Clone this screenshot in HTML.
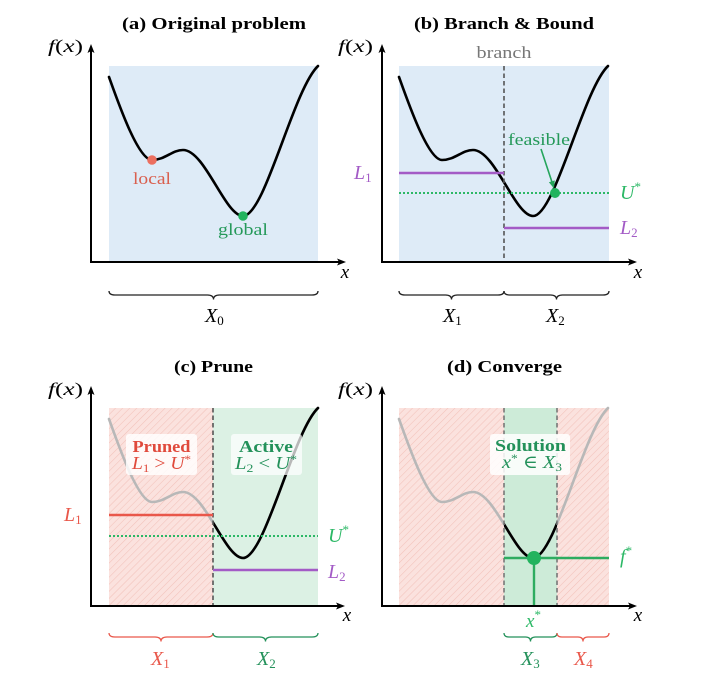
<!DOCTYPE html>
<html>
<head>
<meta charset="utf-8">
<style>
html,body{margin:0;padding:0;background:#fff;}
svg{display:block;}
text{font-family:"Liberation Serif","DejaVu Serif",serif;}
</style>
</head>
<body>
<svg width="704" height="682" viewBox="0 0 704 682" xmlns="http://www.w3.org/2000/svg">
<defs>
  <pattern id="hatch" width="5" height="5" patternUnits="userSpaceOnUse" patternTransform="rotate(45)">
    <rect width="5" height="5" fill="#fbe2de"/>
    <line x1="0" y1="0" x2="0" y2="5" stroke="#f2c2ba" stroke-width="1.1"/>
  </pattern>
  <path id="curve" d="M109,77 C118,102 138,160 152,160 C165,160 172,150 183,150 C205,150 225,216 243,216 C265,216 293,90 318,66" fill="none" stroke-linecap="round"/>
  <clipPath id="clipC"><rect x="213" y="395" width="110" height="220"/></clipPath>
  <clipPath id="clipD"><rect x="504" y="395" width="53" height="220"/></clipPath>
</defs>
<rect width="704" height="682" fill="#fff"/>

<!-- ================= Panel (a) ================= -->
<text x="214" y="29" font-size="17" font-weight="bold" text-anchor="middle" textLength="184" lengthAdjust="spacingAndGlyphs">(a) Original problem</text>
<rect x="109" y="66" width="209" height="196" fill="#deebf7"/>
<use href="#curve" stroke="#000" stroke-width="2.6"/>
<circle cx="152" cy="160" r="4.8" fill="#ec6f5f"/>
<text x="152" y="184" font-size="17" fill="#d9604f" text-anchor="middle" textLength="38" lengthAdjust="spacingAndGlyphs">local</text>
<circle cx="243" cy="216" r="4.8" fill="#22b35e"/>
<text x="243" y="235" font-size="17" fill="#25995a" text-anchor="middle" textLength="50" lengthAdjust="spacingAndGlyphs">global</text>
<!-- axes -->
<line x1="91" y1="262" x2="340" y2="262" stroke="#000" stroke-width="2"/>
<polygon points="346,262 337,258.5 339,262 337,265.5" fill="#000"/>
<line x1="91" y1="263" x2="91" y2="50" stroke="#000" stroke-width="2"/>
<polygon points="91,44 87.5,53 91,51 94.5,53" fill="#000"/>
<text x="48" y="52" font-size="18" textLength="35" lengthAdjust="spacingAndGlyphs"><tspan font-style="italic">f</tspan>(<tspan font-style="italic">x</tspan>)</text>
<text x="345" y="278" font-size="19" font-style="italic" text-anchor="middle">x</text>
<path d="M109,291 Q109,295 115,295 L207.5,295 Q213.5,295 213.5,299.5 Q213.5,295 219.5,295 L312,295 Q318,295 318,291" fill="none" stroke="#222" stroke-width="1.3"/>
<text x="205" y="322" font-size="20"><tspan font-style="italic">X</tspan><tspan font-size="13" dy="3">0</tspan></text>

<!-- ================= Panel (b) ================= -->
<text x="504" y="29" font-size="17" font-weight="bold" text-anchor="middle" textLength="180" lengthAdjust="spacingAndGlyphs">(b) Branch &amp; Bound</text>
<rect x="399" y="66" width="210" height="196" fill="#deebf7"/>
<use href="#curve" transform="translate(290,0)" stroke="#000" stroke-width="2.6"/>
<line x1="504" y1="66" x2="504" y2="262" stroke="#555" stroke-width="1.6" stroke-dasharray="4.5 3"/>
<text x="504" y="58" font-size="17" fill="#777" text-anchor="middle" textLength="55" lengthAdjust="spacingAndGlyphs">branch</text>
<line x1="399" y1="173" x2="504" y2="173" stroke="#a35bc6" stroke-width="2.6"/>
<line x1="399" y1="193" x2="609" y2="193" stroke="#2cb866" stroke-width="2" stroke-dasharray="2 2"/>
<line x1="504" y1="228" x2="609" y2="228" stroke="#a35bc6" stroke-width="2.6"/>
<text x="354" y="179" font-size="20" fill="#a35bc6"><tspan font-style="italic">L</tspan><tspan font-size="13" dy="3">1</tspan></text>
<text x="620" y="199" font-size="20" fill="#2cb866"><tspan font-style="italic">U</tspan><tspan font-size="13" dy="-8">*</tspan></text>
<text x="620" y="234" font-size="20" fill="#a35bc6"><tspan font-style="italic">L</tspan><tspan font-size="13" dy="3">2</tspan></text>
<text x="508" y="145" font-size="17" fill="#25995a" textLength="62" lengthAdjust="spacingAndGlyphs">feasible</text>
<line x1="541" y1="149" x2="551.8" y2="181.5" stroke="#25a55c" stroke-width="1.6"/>
<polygon points="554,188.5 554.8,180.4 548.9,182.3" fill="#25a55c"/>
<circle cx="555" cy="193" r="5" fill="#22b35e"/>
<!-- axes -->
<line x1="382" y1="262" x2="631" y2="262" stroke="#000" stroke-width="2"/>
<polygon points="637,262 628,258.5 630,262 628,265.5" fill="#000"/>
<line x1="382" y1="263" x2="382" y2="50" stroke="#000" stroke-width="2"/>
<polygon points="382,44 378.5,53 382,51 385.5,53" fill="#000"/>
<text x="338" y="52" font-size="18" textLength="35" lengthAdjust="spacingAndGlyphs"><tspan font-style="italic">f</tspan>(<tspan font-style="italic">x</tspan>)</text>
<text x="638" y="278" font-size="19" font-style="italic" text-anchor="middle">x</text>
<path d="M399,291 Q399,295 405,295 L445.5,295 Q451.5,295 451.5,299.5 Q451.5,295 457.5,295 L498,295 Q504,295 504,291" fill="none" stroke="#222" stroke-width="1.3"/>
<path d="M504,291 Q504,295 510,295 L550.5,295 Q556.5,295 556.5,299.5 Q556.5,295 562.5,295 L603,295 Q609,295 609,291" fill="none" stroke="#222" stroke-width="1.3"/>
<text x="443" y="322" font-size="20"><tspan font-style="italic">X</tspan><tspan font-size="13" dy="3">1</tspan></text>
<text x="546" y="322" font-size="20"><tspan font-style="italic">X</tspan><tspan font-size="13" dy="3">2</tspan></text>

<!-- ================= Panel (c) ================= -->
<text x="213.5" y="372" font-size="17" font-weight="bold" text-anchor="middle" textLength="79" lengthAdjust="spacingAndGlyphs">(c) Prune</text>
<rect x="109" y="408" width="104" height="198" fill="url(#hatch)"/>
<rect x="213" y="408" width="105" height="198" fill="#dcf1e4"/>
<use href="#curve" transform="translate(0,342)" stroke="#b8b8b8" stroke-width="2.6"/>
<g clip-path="url(#clipC)"><use href="#curve" transform="translate(0,342)" stroke="#000" stroke-width="2.6"/></g>
<line x1="213" y1="408" x2="213" y2="606" stroke="#555" stroke-width="1.6" stroke-dasharray="4.5 3"/>
<line x1="109" y1="515" x2="213" y2="515" stroke="#e9574a" stroke-width="2.6"/>
<line x1="109" y1="536" x2="318" y2="536" stroke="#2cb866" stroke-width="2" stroke-dasharray="2 2"/>
<line x1="213" y1="570" x2="318" y2="570" stroke="#a35bc6" stroke-width="2.6"/>
<text x="64" y="521" font-size="20" fill="#e9574a"><tspan font-style="italic">L</tspan><tspan font-size="13" dy="3">1</tspan></text>
<text x="328" y="542" font-size="20" fill="#2cb866"><tspan font-style="italic">U</tspan><tspan font-size="13" dy="-8">*</tspan></text>
<text x="328" y="578" font-size="20" fill="#a35bc6"><tspan font-style="italic">L</tspan><tspan font-size="13" dy="3">2</tspan></text>
<rect x="126" y="434" width="71" height="41" rx="3" fill="#fff" fill-opacity="0.82"/>
<text x="161.5" y="452" font-size="17" font-weight="bold" fill="#e04a3c" text-anchor="middle" textLength="58" lengthAdjust="spacingAndGlyphs">Pruned</text>
<text x="161.5" y="469" font-size="18" fill="#e04a3c" text-anchor="middle" textLength="59" lengthAdjust="spacingAndGlyphs"><tspan font-style="italic">L</tspan><tspan font-size="12" dy="3">1</tspan><tspan dy="-3"> &gt; </tspan><tspan font-style="italic">U</tspan><tspan font-size="12" dy="-6">*</tspan></text>
<rect x="231" y="434" width="71" height="41" rx="3" fill="#fff" fill-opacity="0.72"/>
<text x="266" y="452" font-size="17" font-weight="bold" fill="#23915a" text-anchor="middle" textLength="54" lengthAdjust="spacingAndGlyphs">Active</text>
<text x="266" y="469" font-size="18" fill="#23915a" text-anchor="middle" textLength="62" lengthAdjust="spacingAndGlyphs"><tspan font-style="italic">L</tspan><tspan font-size="12" dy="3">2</tspan><tspan dy="-3"> &lt; </tspan><tspan font-style="italic">U</tspan><tspan font-size="12" dy="-6">*</tspan></text>
<!-- axes -->
<line x1="91" y1="606" x2="339" y2="606" stroke="#000" stroke-width="2"/>
<polygon points="345,606 336,602.5 338,606 336,609.5" fill="#000"/>
<line x1="91" y1="607" x2="91" y2="392" stroke="#000" stroke-width="2"/>
<polygon points="91,386 87.5,395 91,393 94.5,395" fill="#000"/>
<text x="48" y="395" font-size="18" textLength="35" lengthAdjust="spacingAndGlyphs"><tspan font-style="italic">f</tspan>(<tspan font-style="italic">x</tspan>)</text>
<text x="347" y="621" font-size="19" font-style="italic" text-anchor="middle">x</text>
<path d="M109,633 Q109,637 115,637 L155,637 Q161,637 161,641.5 Q161,637 167,637 L207,637 Q213,637 213,633" fill="none" stroke="#e9574a" stroke-width="1.3"/>
<path d="M213,633 Q213,637 219,637 L259.5,637 Q265.5,637 265.5,641.5 Q265.5,637 271.5,637 L312,637 Q318,637 318,633" fill="none" stroke="#23915a" stroke-width="1.3"/>
<text x="151" y="665" font-size="20" fill="#e9574a"><tspan font-style="italic">X</tspan><tspan font-size="13" dy="3">1</tspan></text>
<text x="257" y="665" font-size="20" fill="#23915a"><tspan font-style="italic">X</tspan><tspan font-size="13" dy="3">2</tspan></text>

<!-- ================= Panel (d) ================= -->
<text x="504.5" y="372" font-size="17" font-weight="bold" text-anchor="middle" textLength="115" lengthAdjust="spacingAndGlyphs">(d) Converge</text>
<rect x="399" y="408" width="210" height="198" fill="url(#hatch)"/>
<rect x="504" y="408" width="53" height="198" fill="#cdebd8"/>
<use href="#curve" transform="translate(290,342)" stroke="#b8b8b8" stroke-width="2.6"/>
<g clip-path="url(#clipD)"><use href="#curve" transform="translate(290,342)" stroke="#000" stroke-width="2.6"/></g>
<line x1="504" y1="408" x2="504" y2="606" stroke="#777" stroke-width="1.6" stroke-dasharray="4.5 3"/>
<line x1="557" y1="408" x2="557" y2="606" stroke="#777" stroke-width="1.6" stroke-dasharray="4.5 3"/>
<line x1="504" y1="558" x2="609" y2="558" stroke="#2eac60" stroke-width="2.4"/>
<line x1="534" y1="558" x2="534" y2="606" stroke="#2eac60" stroke-width="2.4"/>
<circle cx="534" cy="558" r="7" fill="#22b35e"/>
<text x="620" y="563" font-size="20" fill="#2cb866"><tspan font-style="italic">f</tspan><tspan font-size="13" dy="-8">*</tspan></text>
<rect x="490" y="434" width="80" height="41" rx="3" fill="#fff" fill-opacity="0.85"/>
<text x="530.5" y="451" font-size="17" font-weight="bold" fill="#23915a" text-anchor="middle" textLength="71" lengthAdjust="spacingAndGlyphs">Solution</text>
<text x="532" y="468" font-size="18" fill="#23915a" text-anchor="middle" textLength="60" lengthAdjust="spacingAndGlyphs"><tspan font-style="italic">x</tspan><tspan font-size="12" dy="-6">*</tspan><tspan dy="6"> ∈ </tspan><tspan font-style="italic">X</tspan><tspan font-size="12" dy="3">3</tspan></text>
<!-- axes -->
<line x1="382" y1="606" x2="631" y2="606" stroke="#000" stroke-width="2"/>
<polygon points="637,606 628,602.5 630,606 628,609.5" fill="#000"/>
<line x1="382" y1="607" x2="382" y2="392" stroke="#000" stroke-width="2"/>
<polygon points="382,386 378.5,395 382,393 385.5,395" fill="#000"/>
<text x="338" y="395" font-size="18" textLength="35" lengthAdjust="spacingAndGlyphs"><tspan font-style="italic">f</tspan>(<tspan font-style="italic">x</tspan>)</text>
<text x="638" y="621" font-size="19" font-style="italic" text-anchor="middle">x</text>
<text x="526" y="627" font-size="19" fill="#2cb866"><tspan font-style="italic">x</tspan><tspan font-size="13" dy="-8">*</tspan></text>
<path d="M504,633 Q504,637 509,637 L525.5,637 Q530.5,637 530.5,641.5 Q530.5,637 535.5,637 L552,637 Q557,637 557,633" fill="none" stroke="#23915a" stroke-width="1.3"/>
<path d="M557,633 Q557,637 562,637 L578,637 Q583,637 583,641.5 Q583,637 588,637 L604,637 Q609,637 609,633" fill="none" stroke="#e9574a" stroke-width="1.3"/>
<text x="521" y="665" font-size="20" fill="#23915a"><tspan font-style="italic">X</tspan><tspan font-size="13" dy="3">3</tspan></text>
<text x="574" y="665" font-size="20" fill="#e9574a"><tspan font-style="italic">X</tspan><tspan font-size="13" dy="3">4</tspan></text>
</svg>
</body>
</html>
